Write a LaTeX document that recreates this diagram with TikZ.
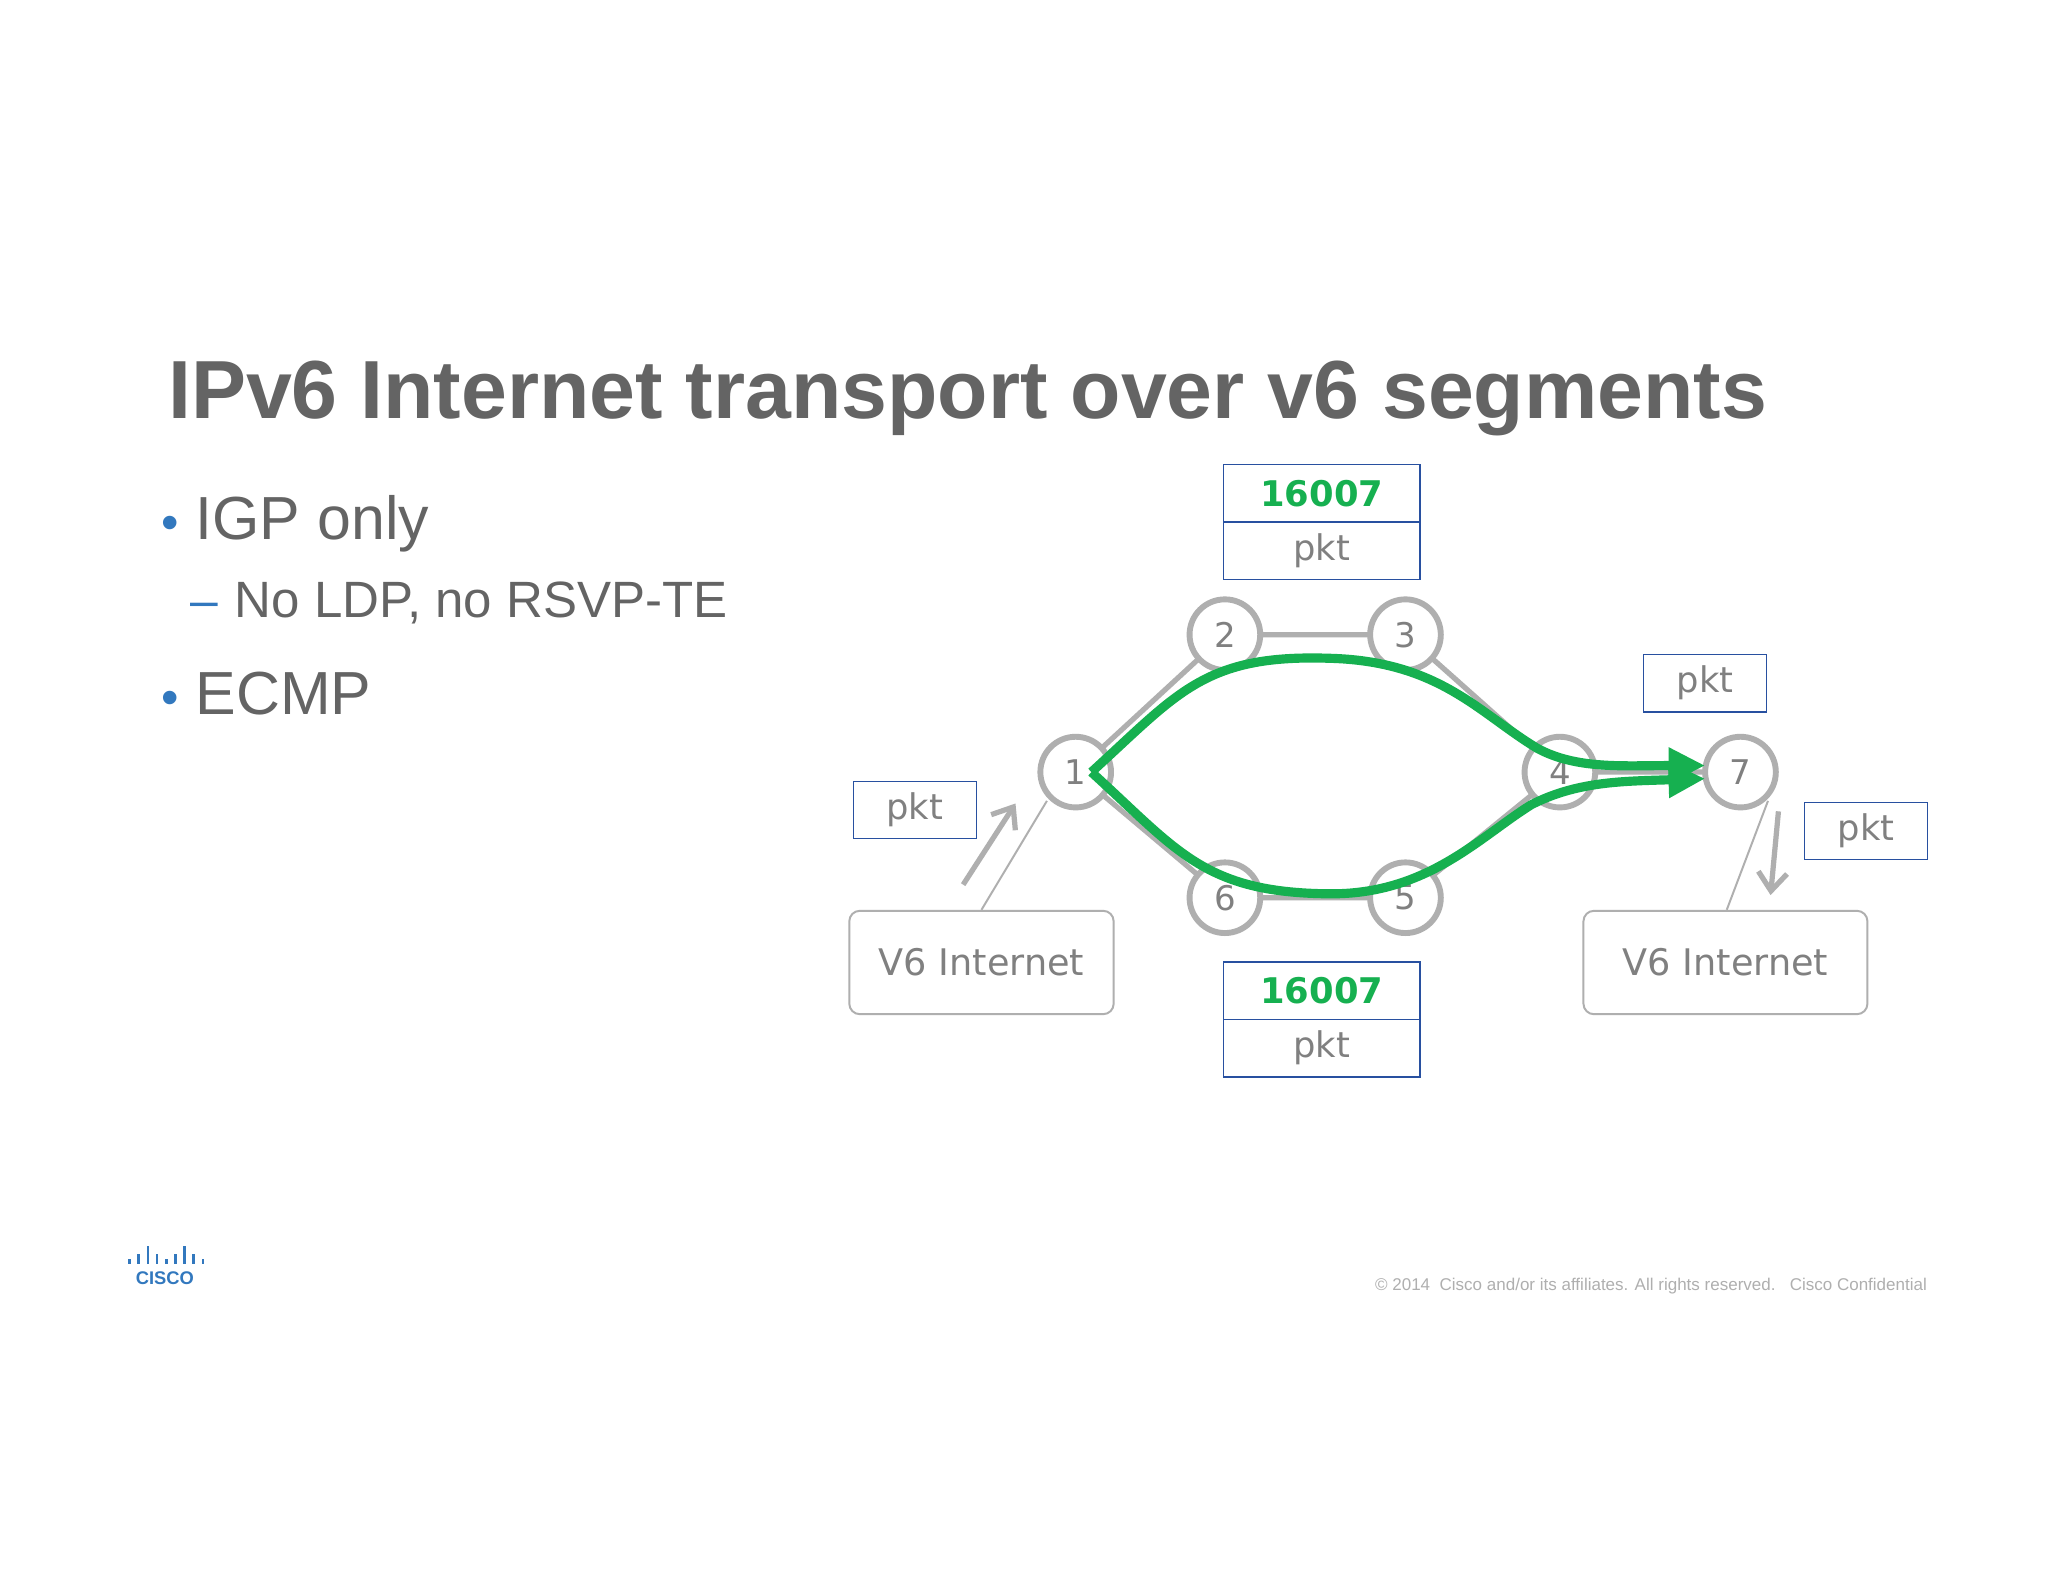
\documentclass[tikz,border=0pt]{standalone}
\usepackage{fontspec}
\setmainfont{Liberation Sans}
\newfontfamily\vfont{DejaVu Sans}
\usetikzlibrary{arrows.meta}
\definecolor{tgray}{RGB}{100,100,100}
\definecolor{ngray}{RGB}{175,175,175}
\definecolor{sgreen}{RGB}{22,176,80}
\definecolor{bblue}{RGB}{40,80,160}
\definecolor{cblue}{RGB}{50,120,190}
\begin{document}
\begin{tikzpicture}[x=1pt,y=-1pt,
  rtr/.style={circle,draw=ngray,line width=4.5pt,fill=white,minimum size=54pt,inner sep=0pt,font=\vfont\fontsize{26}{26}\selectfont,text=gray},
  link/.style={draw=ngray,line width=4pt},
  lbl/.style={draw=bblue,line width=1pt,minimum width=94pt,minimum height=44pt,inner sep=0pt,font=\vfont\fontsize{27}{27}\selectfont,text=gray},
  sid/.style={lbl,minimum width=150pt,text=sgreen,font=\vfont\bfseries\fontsize{27}{27}\selectfont},
  net/.style={draw=ngray,line width=1.5pt,rounded corners=8pt,minimum height=79pt,inner sep=0pt,font=\vfont\fontsize{28}{28}\selectfont,text=gray},
  gpath/.style={draw=sgreen,line width=7pt,-{Triangle[length=28pt,width=26pt]}},
  garr/.style={draw=ngray,line width=4pt,-{Straight Barb[length=14pt,width=22pt]}}]
\useasboundingbox (0,0) rectangle (1565,1209);
\fill[white] (0,0) rectangle (1565,1209);
\node[anchor=base west,text=tgray,font=\bfseries\fontsize{63}{63}\selectfont] (title) at (125,320) {IPv6 Internet transport over v6 segments};
\node[anchor=base west,text=cblue,font=\fontsize{38}{38}\selectfont] (b1) at (120,412) {•};
\node[anchor=base west,text=tgray,font=\fontsize{46.5}{46.5}\selectfont] (t1) at (146,412) {IGP only};
\node[anchor=base west,text=cblue,font=\fontsize{38}{38}\selectfont] (b2) at (142,472) {–};
\node[anchor=base west,text=tgray,font=\fontsize{39}{39}\selectfont] (t2) at (176,472) {No LDP, no RSVP-TE};
\node[anchor=base west,text=cblue,font=\fontsize{38}{38}\selectfont] (b3) at (120,546) {•};
\node[anchor=base west,text=tgray,font=\fontsize{46.5}{46.5}\selectfont] (t3) at (146,546) {ECMP};

\coordinate (n1) at (822,590);
\coordinate (n2) at (936,485);
\coordinate (n3) at (1074,485);
\coordinate (n4) at (1192,590);
\coordinate (n5) at (1074,686);
\coordinate (n6) at (936,686);
\coordinate (n7) at (1330,590);
\draw[link] (n1)--(n2) (n2)--(n3) (n3)--(n4) (n4)--(n7) (n1)--(n6) (n6)--(n5) (n5)--(n4);
\node[rtr] (r1) at (n1) {1};
\node[rtr] (r2) at (n2) {2};
\node[rtr] (r3) at (n3) {3};
\node[rtr] (r4) at (n4) {4};
\node[rtr] (r5) at (n5) {5};
\node[rtr] (r6) at (n6) {6};
\node[rtr] (r7) at (n7) {7};

\node[net,minimum width=202pt] (v1) at (750,735.5) {V6 Internet};
\node[net,minimum width=217pt] (v2) at (1318.5,735.5) {V6 Internet};
\coordinate (c1) at (800,612);
\coordinate (c2) at (1351,612);
\draw[ngray,line width=1.5pt] (v1.north) -- (c1);
\draw[ngray,line width=1.5pt] ([xshift=1pt]v2.north) -- (c2);
\coordinate (a1s) at (736,676); \coordinate (a1e) at (776,614);
\coordinate (a2s) at (1359,620); \coordinate (a2e) at (1353,684);
\draw[garr] (a1s) -- (a1e);
\draw[garr] (a2s) -- (a2e);

\node[sid] (s1) at (1010,377) {16007};
\node[lbl,minimum width=150pt] (p1) at (1010,421) {pkt};
\node[sid] (s2) at (1010,757) {16007};
\node[lbl,minimum width=150pt] (p2) at (1010,801) {pkt};
\node[lbl] (p3) at (1303,522) {pkt};
\node[lbl] (p4) at (699,619) {pkt};
\node[lbl] (p5) at (1426,635) {pkt};

\coordinate (g0) at (834,590);
\coordinate (g1) at (1303,585);
\coordinate (g2) at (1303,595);
\draw[gpath] (g0) .. controls (900,530) and (920,500) .. (1015,503) .. controls (1100,505) and (1130,545) .. (1175,572) .. controls (1205,588) and (1240,585) .. (g1);
\draw[gpath] (g0) .. controls (900,650) and (920,682) .. (1015,683) .. controls (1090,684) and (1130,640) .. (1170,615) .. controls (1205,597) and (1240,597) .. (g2);

\node[text=cblue,font=\bfseries\fontsize{14}{14}\selectfont] (logo) at (126,977) {CISCO};
\foreach \i/\h in {0/4,1/8,2/14,3/8,4/4,5/8,6/14,7/8,8/4}{
  \fill[cblue] (98+\i*7,966) rectangle (100+\i*7,966-\h);
}
\node[anchor=base east,text=ngray,font=\fontsize{13}{13}\selectfont] (copy) at (1476,986) {© 2014\ \ Cisco and/or its affiliates. All rights reserved.\ \ \ Cisco Confidential};
\end{tikzpicture}
\end{document}
